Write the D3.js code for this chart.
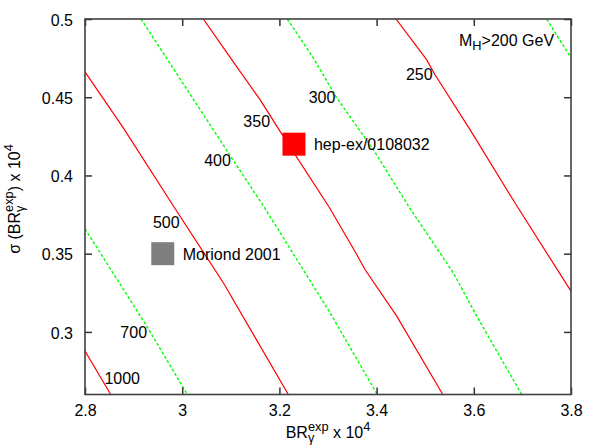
<!DOCTYPE html>
<html>
<head>
<meta charset="utf-8">
<script src="https://cdn.jsdelivr.net/npm/d3@7"></script>
<style>
  body { margin: 0; background: #fff; }
  text { font-family: "Liberation Sans", Arial, sans-serif; fill: #000; white-space: pre; }
</style>
</head>
<body>
<div id="chart"></div>
<script>
const F_WIDTH = 599;
const F_HEIGHT = 445;
const MARGINS = {left: 85, right: 28, top: 19, bottom: 50.5};
const VIS_WIDTH = F_WIDTH - MARGINS.left - MARGINS.right;
const VIS_HEIGHT = F_HEIGHT - MARGINS.top - MARGINS.bottom;

// tick values
const X_TICKS = [2.8, 3.0, 3.2, 3.4, 3.6, 3.8];
const Y_TICKS = [0.30, 0.35, 0.40, 0.45, 0.50];

// iso-M_H contours (BR x 1e4, sigma x 1e4)
const MH1000 = [[2.8, 0.2877], [2.853, 0.26]];
const MH700 = [[2.8, 0.3659], [2.927, 0.3037], [3.0105, 0.26]];
const MH500 = [[2.8, 0.4662], [2.8788, 0.4304], [2.9852, 0.3789], [3.0846, 0.3314], [3.2183, 0.26]];
const MH400 = [[2.9152, 0.5], [3.0983, 0.4129], [3.1704, 0.3789], [3.3041, 0.3123], [3.4014, 0.26]];
const MH350 = [[3.0434, 0.5], [3.1019, 0.474], [3.1601, 0.4485], [3.208, 0.425], [3.3041, 0.3789],
               [3.3591, 0.3495], [3.3761, 0.3399], [3.4414, 0.3101], [3.5362, 0.26]];
const MH300 = [[3.2163, 0.5], [3.2698, 0.4751], [3.3179, 0.4496], [3.3932, 0.4165], [3.4687, 0.3789],
               [3.5578, 0.3378], [3.606, 0.3101], [3.6985, 0.26]];
const MH250 = [[3.4399, 0.5], [3.5029, 0.474], [3.5202, 0.4644], [3.5922, 0.4293], [3.6868, 0.3814], [3.8, 0.326]];
const MH200 = [[3.75, 0.5], [3.8, 0.4751]];

const SOLID_CONTOURS = [MH1000, MH500, MH350, MH250];
const DASHED_CONTOURS = [MH700, MH400, MH300, MH200];

// contour labels: text, x centre, y baseline
const LABEL_TEXT = ["1000", "700", "500", "400", "350", "300", "250"];
const LABEL_X = [2.8765, 2.9002, 2.9673, 3.0726, 3.1533, 3.2877, 3.4878];
const LABEL_Y = [0.2665, 0.2963, 0.3665, 0.4059, 0.431, 0.4464, 0.4612];

// measurements
const MEAS_NAMES = ["hep-ex/0108032", "Moriond 2001"];
const MEAS_X = [3.23, 2.96];
const MEAS_Y = [0.42, 0.35];
const MEAS_COLORS = ["#ff0000", "#7f7f7f"];

const FRAME = d3.select("#chart")
  .append("svg")
    .attr("width", F_WIDTH)
    .attr("height", F_HEIGHT);

const X_SCALE = d3.scaleLinear().domain([2.8, 3.8]).range([0, VIS_WIDTH]);
const Y_SCALE = d3.scaleLinear().domain([0.26, 0.5]).range([VIS_HEIGHT, 0]);

const PLOT = FRAME.append("g")
  .attr("transform", "translate(" + MARGINS.left + "," + MARGINS.top + ")");

PLOT.append("clipPath").attr("id", "clip")
  .append("rect").attr("width", VIS_WIDTH).attr("height", VIS_HEIGHT);

const line = d3.line()
  .x(d => X_SCALE(d[0]))
  .y(d => Y_SCALE(d[1]));

const lines = PLOT.append("g").attr("clip-path", "url(#clip)");

lines.selectAll(".solid")
  .data(SOLID_CONTOURS)
  .enter()
  .append("path")
    .attr("d", line)
    .attr("fill", "none")
    .attr("stroke", "#ff0000")
    .attr("stroke-width", 1.2);

lines.selectAll(".dashed")
  .data(DASHED_CONTOURS)
  .enter()
  .append("path")
    .attr("d", line)
    .attr("fill", "none")
    .attr("stroke", "#00ff00")
    .attr("stroke-width", 1.4)
    .attr("stroke-dasharray", "3,2");

// contour labels
PLOT.selectAll(".clabel")
  .data(LABEL_TEXT)
  .enter()
  .append("text")
    .attr("x", (d, i) => X_SCALE(LABEL_X[i]))
    .attr("y", (d, i) => Y_SCALE(LABEL_Y[i]))
    .attr("text-anchor", "middle")
    .style("font-size", "16px")
    .text(d => d);

// measurement squares
const SQ = 23;
PLOT.selectAll(".meas")
  .data(MEAS_NAMES)
  .enter()
  .append("rect")
    .attr("x", (d, i) => X_SCALE(MEAS_X[i]) - SQ / 2)
    .attr("y", (d, i) => Y_SCALE(MEAS_Y[i]) - SQ / 2)
    .attr("width", SQ)
    .attr("height", SQ)
    .attr("fill", (d, i) => MEAS_COLORS[i]);

PLOT.selectAll(".measlabel")
  .data(MEAS_NAMES)
  .enter()
  .append("text")
    .attr("x", (d, i) => X_SCALE(MEAS_X[i]) + 20)
    .attr("y", (d, i) => Y_SCALE(MEAS_Y[i]) + 6)
    .style("font-size", "16px")
    .text(d => d);

// axes with inward ticks, mirrored on top/right
const xAxis = PLOT.append("g")
  .attr("transform", "translate(0," + VIS_HEIGHT + ")")
  .call(d3.axisBottom(X_SCALE).tickValues(X_TICKS).tickFormat(d => String(d))
        .tickSize(-7).tickPadding(10));
PLOT.append("g")
  .call(d3.axisTop(X_SCALE).tickValues(X_TICKS).tickFormat("").tickSize(-7));
const yAxis = PLOT.append("g")
  .call(d3.axisLeft(Y_SCALE).tickValues(Y_TICKS).tickFormat(d => String(d))
        .tickSize(-7).tickPadding(12));
PLOT.append("g")
  .attr("transform", "translate(" + VIS_WIDTH + ",0)")
  .call(d3.axisRight(Y_SCALE).tickValues(Y_TICKS).tickFormat("").tickSize(-7));

PLOT.selectAll(".domain").remove();
PLOT.selectAll(".tick line").attr("stroke", "#333").attr("stroke-width", 1.5);
PLOT.selectAll(".tick text").style("font-size", "16px")
  .style("font-family", "'Liberation Sans', Arial, sans-serif").attr("fill", "#000");
yAxis.selectAll(".tick text").attr("dy", "0.38em");

PLOT.append("rect")
  .attr("width", VIS_WIDTH)
  .attr("height", VIS_HEIGHT)
  .attr("fill", "none")
  .attr("stroke", "#404040")
  .attr("stroke-width", 1.6);

// rich text with super/subscripts, laid out piece by piece
function richText(g, parts, size) {
  let x = 0, stackX = null;
  parts.forEach(p => {
    const small = p.sup || p.sub;
    const fs = small ? size * 0.8 : size;
    const dy = p.sup ? -size * 0.45 : (p.sub ? size * 0.25 : 0);
    const px = (stackX !== null) ? stackX : x;
    const t = g.append("text")
      .attr("x", px).attr("y", dy)
      .style("font-size", fs + "px")
      .text(p.t);
    const w = t.node().getComputedTextLength();
    if (p.stack) { stackX = px; x = px + w; }
    else { x = Math.max(x, px + w); stackX = null; }
  });
  return x;
}

const XLABEL = [{t: "BR"}, {t: "exp", sup: true, stack: true}, {t: "γ", sub: true}, {t: " x 10"}, {t: "4", sup: true}];
const YLABEL = [{t: "σ (BR"}, {t: "exp", sup: true, stack: true}, {t: "γ", sub: true}, {t: ") x 10"}, {t: "4", sup: true}];

const xl = FRAME.append("g");
const xw = richText(xl, XLABEL, 16);
xl.attr("transform", "translate(" + (328 - xw / 2) + ",438)");

const yl = FRAME.append("g");
const yw = richText(yl, YLABEL, 16);
yl.attr("transform", "translate(20," + (199 + yw / 2) + ") rotate(-90)");

// M_H label
const mh = FRAME.append("g");
richText(mh, [{t: "M"}, {t: "H", sub: true}, {t: ">200 GeV"}], 16);
mh.attr("transform", "translate(459,46)");
</script>
</body>
</html>
